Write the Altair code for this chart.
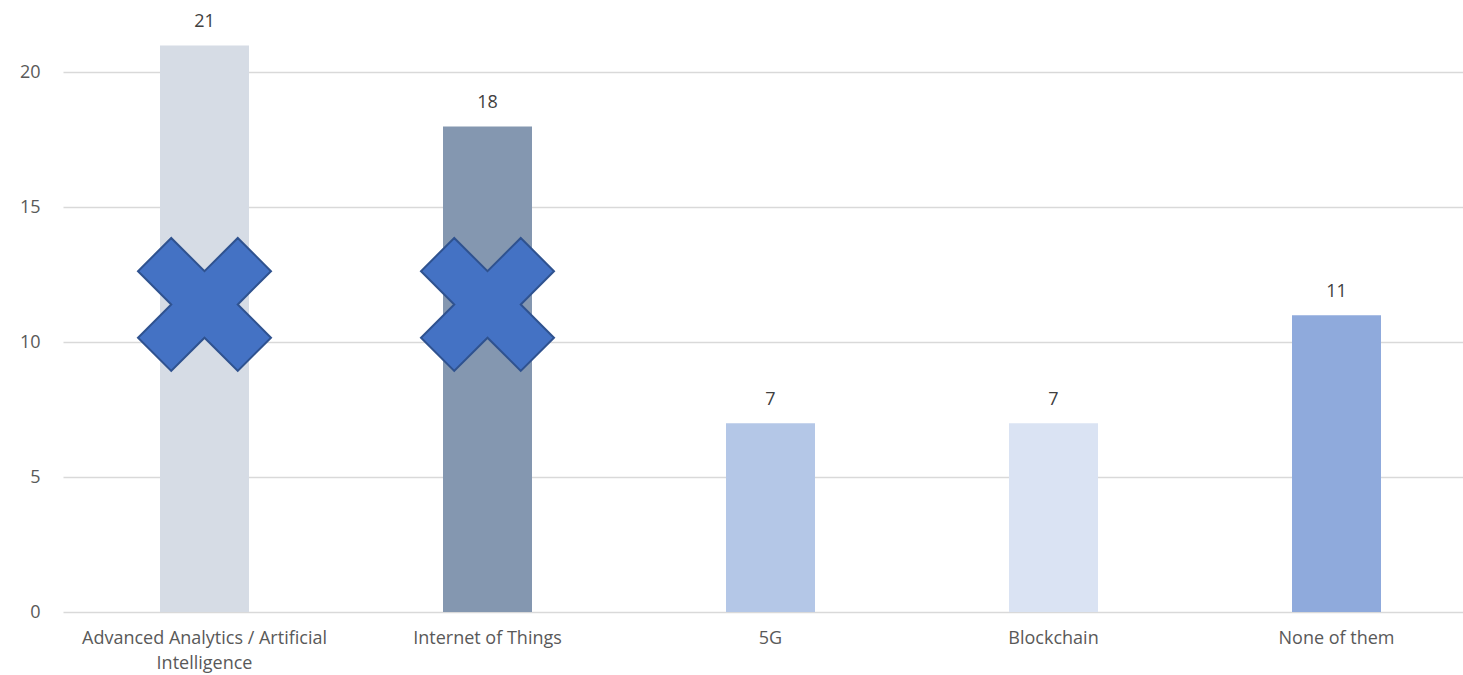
import altair as alt
import pandas as pd

categories = ["Advanced Analytics / Artificial Intelligence", "Internet of Things", "5G", "Blockchain", "None of them"]
values = [21, 18, 7, 7, 11]
bar_colors = ["#D6DCE5", "#8497B0", "#B4C7E7", "#DAE3F3", "#8FAADC"]

cross_categories = ["Advanced Analytics / Artificial Intelligence", "Internet of Things"]
cross_values = [11.4, 11.4]

df = pd.DataFrame({"category": categories, "value": values, "color": bar_colors})
dfx = pd.DataFrame({"category": cross_categories, "value": cross_values})

FONT = "Open Sans"

x_scale = alt.Scale(paddingInner=0, paddingOuter=0, range=[0, 1415])
x_enc = alt.X(
    "category:N",
    sort=categories,
    scale=x_scale,
    axis=alt.Axis(
        title=None,
        labelAngle=0,
        ticks=False,
        domain=False,
        labelFont=FONT,
        labelFontSize=18,
        labelColor="#595959",
        labelPadding=17,
        labelLineHeight=25,
        labelLimit=400,
        labelExpr="datum.label == 'Advanced Analytics / Artificial Intelligence' ? ['Advanced Analytics / Artificial', 'Intelligence'] : datum.label",
    ),
)
y_scale = alt.Scale(domain=[0, 22.5], nice=False)
y_enc = alt.Y(
    "value:Q",
    scale=y_scale,
    axis=alt.Axis(
        title=None,
        values=[0, 5, 10, 15, 20],
        ticks=False,
        domain=False,
        grid=True,
        gridColor="#D9D9D9",
        gridWidth=1.3,
        labelFont=FONT,
        labelFontSize=18,
        labelColor="#595959",
        labelPadding=23,
    ),
)

bars = alt.Chart(df).mark_bar(size=89).encode(
    x=x_enc,
    y=y_enc,
    color=alt.Color("color:N", scale=None),
)

texts = alt.Chart(df).mark_text(
    baseline="alphabetic", dy=-18, font=FONT, fontSize=18, color="#404040"
).encode(
    x=alt.X("category:N", sort=categories, scale=x_scale),
    y=alt.Y("value:Q", scale=y_scale),
    text=alt.Text("value:Q"),
)

x_path = "M -0.5,-1 L 0,-0.5 L 0.5,-1 L 1,-0.5 L 0.5,0 L 1,0.5 L 0.5,1 L 0,0.5 L -0.5,1 L -1,0.5 L -0.5,0 L -1,-0.5 Z"
crosses = alt.Chart(dfx).mark_point(
    shape=x_path,
    size=133 * 133,
    filled=True,
    fill="#4472C4",
    stroke="#2F528F",
    strokeWidth=2,
    opacity=1,
).encode(
    x=alt.X("category:N", sort=categories, scale=x_scale),
    y=alt.Y("value:Q", scale=y_scale),
)

chart = (
    alt.layer(bars, texts, crosses)
    .properties(
        width=1400,
        height=607,
        autosize=alt.AutoSizeParams(type="none"),
        padding={"left": 63, "top": 5, "right": 0, "bottom": 63},
        background="white",
    )
    .configure_view(stroke=None)
)

chart.save("out.html", embed_options={"renderer": "svg", "actions": False})
